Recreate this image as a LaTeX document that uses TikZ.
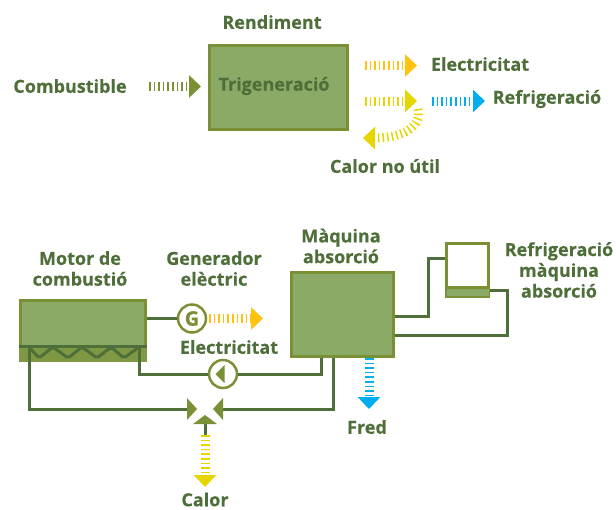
\documentclass[tikz,border=0pt]{standalone}
\usepackage{fontspec}
\setmainfont[BoldFeatures={FakeBold=0.35}]{Open Sans}
\usetikzlibrary{arrows.meta}
\definecolor{leafgreen}{HTML}{8BAA66}
\definecolor{olivegreen}{HTML}{7A9035}
\definecolor{pipegreen}{HTML}{4F6F3A}
\definecolor{amberflow}{HTML}{FFC20E}
\definecolor{yellowflow}{HTML}{E6D600}
\definecolor{blueflow}{HTML}{00AEEF}
\begin{document}
\begin{tikzpicture}[
    x=1pt, y=-1pt,
    unit/.style={draw=olivegreen, fill=leafgreen, line width=3pt, inner sep=0pt},
    txt/.style={text=pipegreen, align=center, font=\fontsize{18}{20.8}\selectfont\bfseries, inner sep=0pt},
    pipe/.style={draw=pipegreen, line width=3pt, line join=miter},
    flow/.style={line width=9pt, dash pattern=on 1.5pt off 3.1pt,
                 -{Triangle[length=12pt, width=22pt, sep=0pt]}},
    ring/.style={circle, draw=olivegreen, fill=white, line width=2.5pt, minimum size=28pt, inner sep=0pt},
    tip/.style={fill=olivegreen, draw=none}
]
\useasboundingbox (0,0) rectangle (616,509);

% upper scheme
\node[unit, minimum width=138pt, minimum height=84pt] (trigen) at (278.5,87) {};
\node[txt] (trigentxt)  at (274,86)  {Trigeneració};
\node[txt] (rendiment)  at (272,22)  {Rendiment};
\node[txt] (combust)    at (70,86)   {Combustible};
\node[txt] (elec)       at (480,64)  {Electricitat};
\node[txt] (refrig)     at (547,99)  {Refrigeració};
\node[txt] (calornou)   at (385,166) {Calor no útil};

\coordinate (combA) at (149,86.5);  \coordinate (combB) at (201,86.5);
\coordinate (elecA) at (365,65.5);  \coordinate (elecB) at (417,65.5);
\coordinate (heatA) at (365,101);   \coordinate (heatB) at (417,101);
\coordinate (refrA) at (432,101);   \coordinate (refrB) at (485,101);
\coordinate (lossA) at (418,109);   \coordinate (lossB) at (363,138);

\draw[flow, olivegreen] (combA) -- (combB);
\draw[flow, amberflow]  (elecA) -- (elecB);
\draw[flow, yellowflow] (heatA) -- (heatB);
\draw[flow, blueflow]   (refrA) -- (refrB);
\draw[flow, yellowflow] (lossA) .. controls (422,126) and (404,138) .. (lossB);

% lower scheme
\node[unit, minimum width=125pt, minimum height=60pt] (motor) at (83,330.5) {};
\node[draw=none, fill=olivegreen!70!leafgreen, minimum width=128pt, minimum height=15pt, inner sep=0pt] (motorbase) at (83,354) {};
\node[unit, minimum width=102pt, minimum height=84pt] (absorb) at (342.5,314.5) {};
\node[unit, fill=white, minimum width=42pt, minimum height=53pt] (cooler) at (467.5,270) {};
\node[fill=leafgreen, minimum width=42pt, minimum height=8pt, inner sep=0pt] (coolerbase) at (467.5,292) {};
\node[ring, font=\fontsize{20}{20}\selectfont\bfseries, text=olivegreen] (gen) at (192,318.5) {G};
\node[ring] (pump) at (223,374) {};

\node[txt] (motortxt)  at (80,268.5)  {Motor de\\combustió};
\node[txt] (gentxt)    at (214,268.5) {Generador\\elèctric};
\node[txt] (electxt)   at (229,347)   {Electricitat};
\node[txt] (absorbtxt) at (341,246)   {Màquina\\absorció};
\node[txt] (coolertxt) at (559,270)   {Refrigeració\\màquina\\absorció};
\node[txt] (fredtxt)   at (367,427)   {Fred};
\node[txt] (calortxt)  at (205,499.5) {Calor};

\coordinate (wasteL) at (29,347);
\coordinate (wasteR) at (139,347);
\coordinate (mixL) at (187,409);
\coordinate (mixR) at (223,409);
\coordinate (mixB) at (205,424);
\coordinate (heatC) at (205,435);
\coordinate (calorB) at (205,487);
\coordinate (fredA) at (369,358);
\coordinate (fredB) at (369,409);
\coordinate (genA) at (209,318.5);
\coordinate (genB) at (263,318.5);

\draw[pipe] (19,346.5) -- (147,346.5);
\draw[pipe, rounded corners=2pt] (wasteL) -- (39,358) -- (53,347) -- (68,358) -- (82,347) -- (97,358) -- (111,347) -- (124,358) -- (wasteR);

\draw[pipe] (motor.east |- gen) -- (gen.west);
\draw[pipe] (wasteR) -- (wasteR |- pump) -- (pump.west);
\draw[pipe] (pump.east) -- (321,374) -- (321,358);
\draw[pipe] (wasteL) -- (wasteL |- mixL) -- (mixL);
\draw[pipe] (mixR) -- (333,409) -- (333,358);
\draw[pipe] (395,316) -- (428,316) -- (428,258) -- (445,258);
\draw[pipe] (395,335) -- (507,335) -- (507,290) -- (490,290);
\draw[pipe] (mixB) -- (heatC);

\draw[pipe, draw=olivegreen] (445.5,287) -- (489.5,287);
\fill[tip] (187,398) -- (197,409) -- (187,420) -- cycle;
\fill[tip] (223,398) -- (213,409) -- (223,420) -- cycle;
\fill[tip] (193,424) -- (205,415) -- (217,424) -- cycle;
\fill[tip] (224.5,365) -- (215.5,374) -- (224.5,383) -- cycle;

\draw[flow, amberflow]  (genA) -- (genB);
\draw[flow, blueflow]   (fredA) -- (fredB);
\draw[flow, yellowflow] (heatC) -- (calorB);
\end{tikzpicture}
\end{document}
